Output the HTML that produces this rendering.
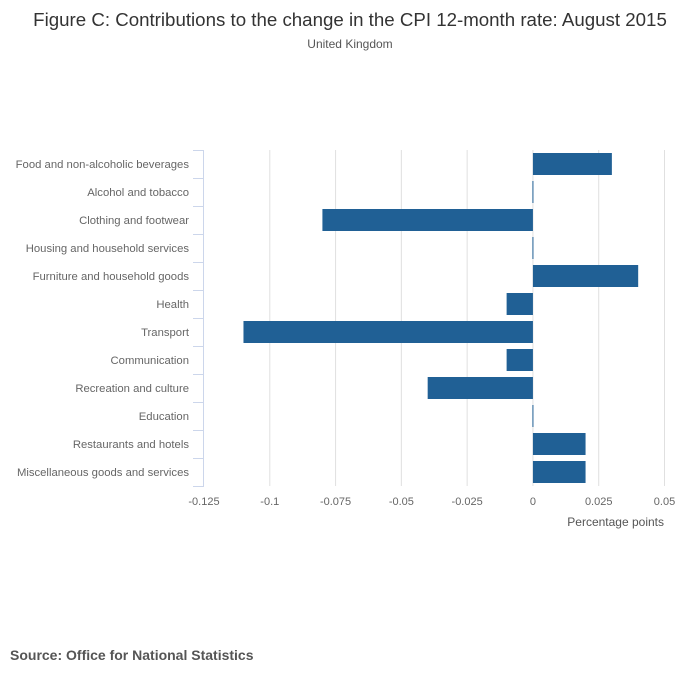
<!DOCTYPE html>
<html><head><meta charset="utf-8">
<style>
body{margin:0;background:#fff;font-family:"Liberation Sans",sans-serif;}
svg{display:block}
</style></head>
<body>
<svg id="chart" width="700" height="682">
<text x="350" y="26" text-anchor="middle" font-size="18.7" fill="#333">Figure C: Contributions to the change in the CPI 12-month rate: August 2015</text>
<text x="350" y="48" text-anchor="middle" font-size="12" fill="#555">United Kingdom</text>
<g id="grid"></g>
<g id="bars"></g>
<g id="yaxis"></g>
<g id="xaxis"></g>
<text x="664" y="526" text-anchor="end" font-size="12" fill="#555">Percentage points</text>
<text x="10" y="660" font-size="14" font-weight="bold" fill="#555">Source: Office for National Statistics</text>
</svg>
<script>
const categories=["Food and non-alcoholic beverages","Alcohol and tobacco","Clothing and footwear","Housing and household services","Furniture and household goods","Health","Transport","Communication","Recreation and culture","Education","Restaurants and hotels","Miscellaneous goods and services"];
const values=[0.03,0,-0.08,0,0.04,-0.01,-0.11,-0.01,-0.04,0,0.02,0.02];
const ticks=[-0.125,-0.1,-0.075,-0.05,-0.025,0,0.025,0.05];
const tickLabels=["-0.125","-0.1","-0.075","-0.05","-0.025","0","0.025","0.05"];
const NS="http://www.w3.org/2000/svg";
const x0=204,x1=664.5,vmin=-0.125,vmax=0.05,plotTop=150,rowH=28;
function xs(v){return x0+(v-vmin)/(vmax-vmin)*(x1-x0);}
function mk(tag,attrs,parent,txt){const e=document.createElementNS(NS,tag);for(const k in attrs)e.setAttribute(k,attrs[k]);if(txt!==undefined)e.textContent=txt;parent.appendChild(e);return e;}
const plotBottom=plotTop+rowH*categories.length;
const grid=document.getElementById('grid'),bars=document.getElementById('bars'),ya=document.getElementById('yaxis'),xa=document.getElementById('xaxis');
ticks.forEach((t,i)=>{
 if(i>0){const g=mk('line',{x1:xs(t),x2:xs(t),y1:plotTop,y2:plotBottom,stroke:'#e0e0e0','stroke-width':1},grid);
 
 }
 const l=mk('text',{x:xs(t),y:505,'text-anchor':'middle','font-size':11,fill:'#666'},xa,tickLabels[i]);
 
 
});
const ax=mk('line',{x1:x0-0.5,x2:x0-0.5,y1:plotTop,y2:plotBottom,stroke:'#ccd6eb','stroke-width':1},ya);


for(let i=0;i<=categories.length;i++){
 const t=mk('line',{x1:x0-11,x2:x0,y1:plotTop+i*rowH+0.5,y2:plotTop+i*rowH+0.5,stroke:'#ccd6eb','stroke-width':1},ya);
 
 
}
categories.forEach((c,i)=>{
 const cy=plotTop+i*rowH+rowH/2;
 const l=mk('text',{x:189,y:cy+4,'text-anchor':'end','font-size':11.3,fill:'#666'},ya,c);
 
 
 const v=values[i];
 const a=xs(Math.min(0,v)),b=xs(Math.max(0,v));
 const w=Math.max(b-a,1);
 const r=mk('rect',{x:v===0?xs(0)-0.5:a,y:cy-11,width:w,height:22,fill:'#206095'},bars);
 
 
});
</script>
</body></html>
